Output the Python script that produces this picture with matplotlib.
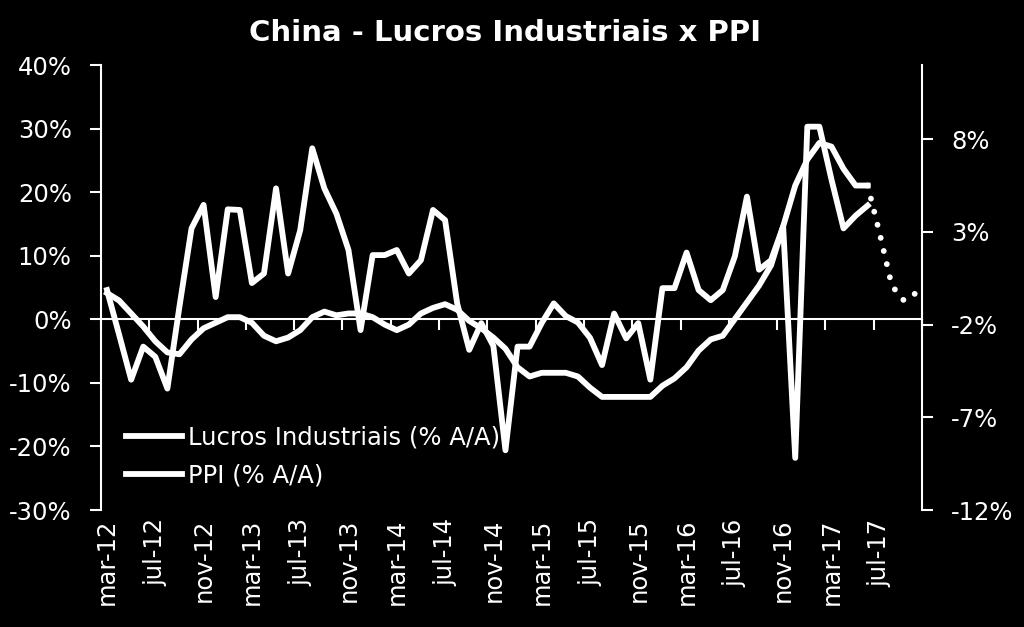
import numpy as np
import pandas as pd
import matplotlib
matplotlib.use("Agg")
import matplotlib.pyplot as plt

plt.rcParams['font.family'] = ['DejaVu Sans']

# meses de mar-12 a out-17
meses_pt = ["jan", "fev", "mar", "abr", "mai", "jun", "jul", "ago", "set", "out", "nov", "dez"]
periodos = pd.period_range("2012-03", "2017-10", freq="M")
rotulos = [meses_pt[p.month - 1] + "-" + str(p.year)[2:] for p in periodos]

nan = np.nan
lucros = [4.6, -2.4, -9.5, -4.3, -5.9, -10.9, 2.0, 14.3, 18.0, 3.5,
          17.3, 17.2, 5.7, 7.2, 20.6, 7.2, 14.0, 26.9, 20.6, 16.6, 10.9, -1.7,
          10.1, 10.1, 10.9, 7.2, 9.3, 17.2, 15.6, 2.5, -4.8, -0.6, -4.2, -20.6,
          -4.3, -4.3, -0.6, 2.5, 0.5, -0.5, -2.9, -7.2, 0.9, -3.0, -0.6, -9.5,
          4.9, 4.9, 10.5, 4.6, 3.0, 4.6, 9.9, 19.3, 7.8, 9.3, 14.6, -21.8,
          30.3, 30.3, 22.0, 14.3, 16.3, 17.9, nan, nan, nan, nan]
ppi = [-0.3, -0.7, -1.4, -2.1, -2.9, -3.5, -3.6, -2.8, -2.2, -1.9,
       -1.6, -1.6, -1.9, -2.6, -2.9, -2.7, -2.3, -1.6, -1.3, -1.5, -1.4, -1.4,
       -1.6, -2.0, -2.3, -2.0, -1.4, -1.1, -0.9, -1.2, -1.8, -2.2, -2.7, -3.3,
       -4.3, -4.8, -4.6, -4.6, -4.6, -4.8, -5.4, -5.9, -5.9, -5.9, -5.9, -5.9,
       -5.3, -4.9, -4.3, -3.4, -2.8, -2.6, -1.7, -0.8, 0.1, 1.2, 3.3, 5.5,
       6.9, 7.8, 7.6, 6.4, 5.5, 5.5, nan, nan, nan, nan]
ppi_proj = [nan] * 63 + [5.5, 2.9, 0.1, -0.7, -0.3]

x = np.arange(len(rotulos))

fig = plt.figure(figsize=(10.24, 6.27), dpi=100, facecolor="black")
ax = fig.add_axes([0.0986, 0.1866, 0.8018, 0.7097])
ax.set_facecolor("black")
ax2 = ax.twinx()

l1, = ax.plot(x, lucros, color="white", lw=4.2, solid_joinstyle="round",
              label="Lucros Industriais (% A/A)")
l2, = ax2.plot(x, ppi, color="white", lw=4.2, solid_joinstyle="round",
               label="PPI (% A/A)")
ax2.plot(x, ppi_proj, color="white", lw=4.2, dash_capstyle="round",
         dashes=(0.01, 2.3))

ax.set_xlim(-0.5, len(x) - 0.5)
ax.set_ylim(-30, 40)
ax.set_yticks(np.arange(-30, 41, 10))
ax.set_yticklabels([f"{v}%" for v in range(-30, 41, 10)])
ax2.set_ylim(-12, 12)
ax2.set_yticks([-12, -7, -2, 3, 8])
ax2.set_yticklabels([f"{v}%" for v in [-12, -7, -2, 3, 8]])

for a in (ax, ax2):
    for s in a.spines.values():
        s.set_color("white")
        s.set_linewidth(1.5)
    a.spines["top"].set_visible(False)
ax.spines["right"].set_visible(False)
ax2.spines["left"].set_visible(False)
ax2.spines["bottom"].set_visible(False)

# eixo x cruzando em 0%
ax.spines["bottom"].set_position(("data", 0))
ax.set_xticks(x[::4])
ax.set_xticks(np.arange(-0.5, len(x), 4), minor=True)
ax.tick_params(axis="x", which="major", length=0, labelbottom=False)
ax.tick_params(axis="x", which="minor", length=8, width=1.5, color="white", direction="out")

ax.tick_params(axis="y", length=8, width=1.5, color="white", labelcolor="white",
               labelsize=17.5, pad=13)
ax2.tick_params(axis="y", length=8, width=1.5, color="white", labelcolor="white",
                labelsize=17.5, pad=13)

sec = ax.secondary_xaxis("bottom")
sec.set_xticks(x[::4])
sec.set_xticklabels(rotulos[::4], rotation=90)
sec.tick_params(length=0, labelcolor="white", labelsize=17.5, pad=6)
sec.spines["bottom"].set_visible(False)

leg = ax2.legend(handles=[l1, l2], loc="upper left", bbox_to_anchor=(0.03, 0.19),
                 frameon=False, fontsize=17.5, handlelength=2.3, handletextpad=0.25,
                 labelspacing=0.56, borderpad=0, borderaxespad=0)
for t in leg.get_texts():
    t.set_color("white")

fig.text(0.493, 0.947, "China - Lucros Industriais x PPI", color="white",
         fontsize=21, fontweight="bold", ha="center", va="center")

fig.savefig("out.png", dpi=100, facecolor="black")
